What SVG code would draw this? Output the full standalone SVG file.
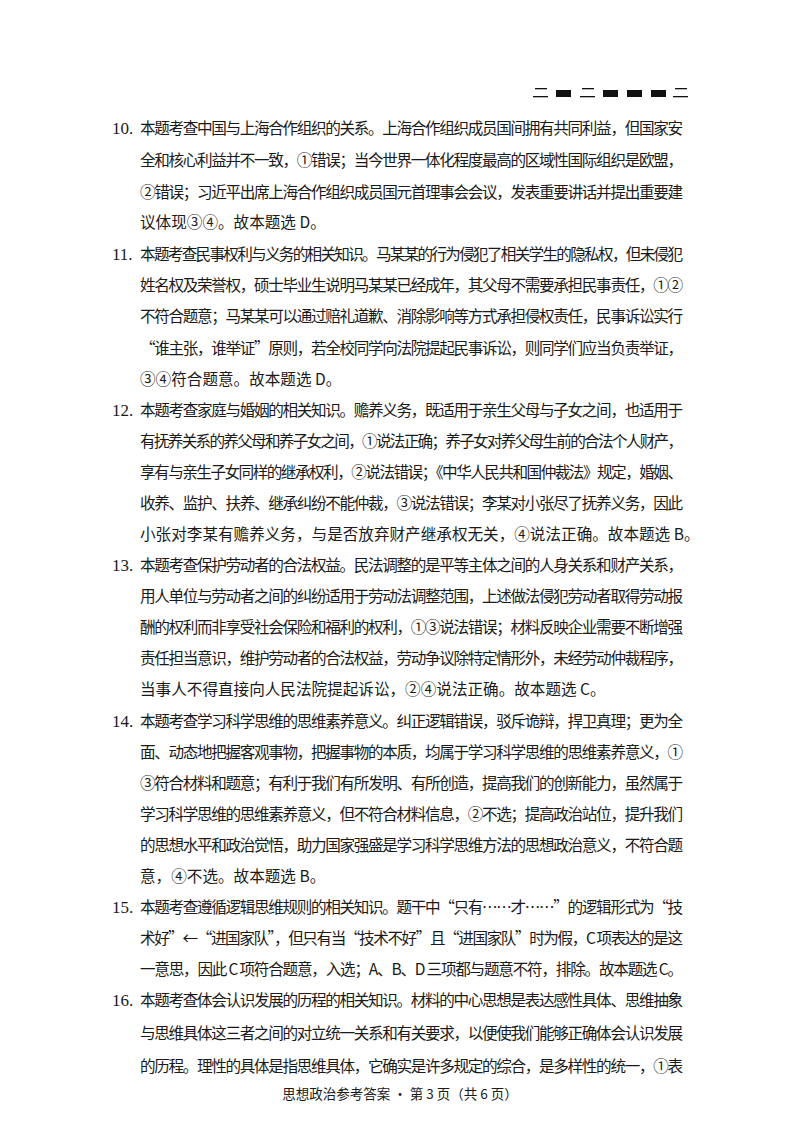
<svg xmlns="http://www.w3.org/2000/svg" width="800" height="1132" viewBox="0 0 800 1132">
<style>
text{font-family:"Noto Sans CJK SC","Liberation Serif",serif;font-size:15.6px;fill:#1a1a1a}
.n{font-family:"Liberation Serif",serif;font-size:17px}
.f{font-size:13.5px}
</style>
<rect width="800" height="1132" fill="#fff"/>
<g id="deco" fill="#111">
<rect x="535" y="88" width="12" height="1.3"/><rect x="533" y="96" width="15" height="1.3"/>
<rect x="556" y="90" width="15" height="7"/>
<rect x="582" y="88" width="12" height="1.3"/><rect x="580" y="96" width="15" height="1.3"/>
<rect x="603" y="90" width="15" height="7"/><rect x="627" y="90" width="15" height="7"/><rect x="651" y="90" width="15" height="7"/>
<rect x="675" y="88" width="12" height="1.3"/><rect x="673" y="96" width="15" height="1.3"/>
</g>
<g id="body" lengthAdjust="spacing">
<text class="n" x="112" y="134">10.</text>
<text x="140" y="134" textLength="543">本题考查中国与上海合作组织的关系。上海合作组织成员国间拥有共同利益，但国家安</text>
<text x="140" y="166" textLength="543">全和核心利益并不一致，①错误；当今世界一体化程度最高的区域性国际组织是欧盟，</text>
<text x="140" y="198" textLength="543">②错误；习近平出席上海合作组织成员国元首理事会会议，发表重要讲话并提出重要建</text>
<text x="140" y="228">议体现③④。故本题选 D。</text>
<text class="n" x="112" y="260">11.</text>
<text x="140" y="260" textLength="543">本题考查民事权利与义务的相关知识。马某某的行为侵犯了相关学生的隐私权，但未侵犯</text>
<text x="140" y="291" textLength="543">姓名权及荣誉权，硕士毕业生说明马某某已经成年，其父母不需要承担民事责任，①②</text>
<text x="140" y="322" textLength="543">不符合题意；马某某可以通过赔礼道歉、消除影响等方式承担侵权责任，民事诉讼实行</text>
<text x="140" y="354" textLength="543">“谁主张，谁举证”原则，若全校同学向法院提起民事诉讼，则同学们应当负责举证，</text>
<text x="140" y="385">③④符合题意。故本题选 D。</text>
<text class="n" x="112" y="416">12.</text>
<text x="140" y="416" textLength="543">本题考查家庭与婚姻的相关知识。赡养义务，既适用于亲生父母与子女之间，也适用于</text>
<text x="140" y="447" textLength="543">有抚养关系的养父母和养子女之间，①说法正确；养子女对养父母生前的合法个人财产，</text>
<text x="140" y="478" textLength="543">享有与亲生子女同样的继承权利，②说法错误；《中华人民共和国仲裁法》规定，婚姻、</text>
<text x="140" y="509" textLength="543">收养、监护、扶养、继承纠纷不能仲裁，③说法错误；李某对小张尽了抚养义务，因此</text>
<text x="140" y="540">小张对李某有赡养义务，与是否放弃财产继承权无关，④说法正确。故本题选 B。</text>
<text class="n" x="112" y="571">13.</text>
<text x="140" y="571" textLength="543">本题考查保护劳动者的合法权益。民法调整的是平等主体之间的人身关系和财产关系，</text>
<text x="140" y="602" textLength="543">用人单位与劳动者之间的纠纷适用于劳动法调整范围，上述做法侵犯劳动者取得劳动报</text>
<text x="140" y="633" textLength="543">酬的权利而非享受社会保险和福利的权利，①③说法错误；材料反映企业需要不断增强</text>
<text x="140" y="664" textLength="543">责任担当意识，维护劳动者的合法权益，劳动争议除特定情形外，未经劳动仲裁程序，</text>
<text x="140" y="695">当事人不得直接向人民法院提起诉讼，②④说法正确。故本题选 C。</text>
<text class="n" x="112" y="727">14.</text>
<text x="140" y="727" textLength="543">本题考查学习科学思维的思维素养意义。纠正逻辑错误，驳斥诡辩，捍卫真理；更为全</text>
<text x="140" y="758" textLength="543">面、动态地把握客观事物，把握事物的本质，均属于学习科学思维的思维素养意义，①</text>
<text x="140" y="789" textLength="543">③符合材料和题意；有利于我们有所发明、有所创造，提高我们的创新能力，虽然属于</text>
<text x="140" y="820" textLength="543">学习科学思维的思维素养意义，但不符合材料信息，②不选；提高政治站位，提升我们</text>
<text x="140" y="851" textLength="543">的思想水平和政治觉悟，助力国家强盛是学习科学思维方法的思想政治意义，不符合题</text>
<text x="140" y="882">意，④不选。故本题选 B。</text>
<text class="n" x="112" y="913">15.</text>
<text x="140" y="913" textLength="543">本题考查遵循逻辑思维规则的相关知识。题干中“只有……才……”的逻辑形式为“技</text>
<text x="140" y="944" textLength="543">术好”←“进国家队”，但只有当“技术不好”且“进国家队”时为假，C 项表达的是这</text>
<text x="140" y="975" textLength="543">一意思，因此 C 项符合题意，入选；A、B、D 三项都与题意不符，排除。故本题选 C。</text>
<text class="n" x="112" y="1006">16.</text>
<text x="140" y="1006" textLength="543">本题考查体会认识发展的历程的相关知识。材料的中心思想是表达感性具体、思维抽象</text>
<text x="140" y="1039" textLength="543">与思维具体这三者之间的对立统一关系和有关要求，以便使我们能够正确体会认识发展</text>
<text x="140" y="1072" textLength="543">的历程。理性的具体是指思维具体，它确实是许多规定的综合，是多样性的统一，①表</text>
</g>
<text class="f" x="400" y="1099" text-anchor="middle">思想政治参考答案 • 第 3 页（共 6 页）</text>
</svg>
